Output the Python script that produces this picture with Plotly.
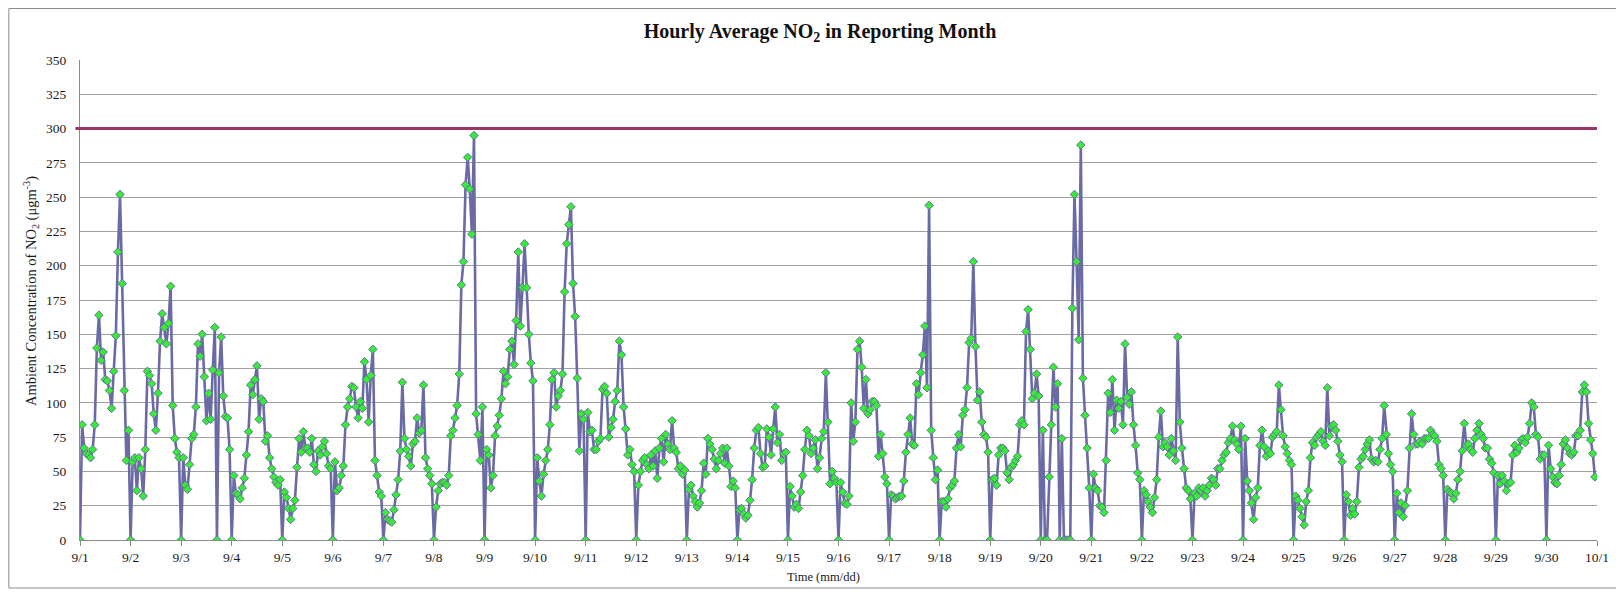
import pandas as pd
import plotly.graph_objects as go

# Hourly NO2 values (ugm-3), hours 00..23 for each day of the reporting month
sep01 = [0, 84, 67, 63, 62, 60, 66, 84, 140, 164, 131, 137, 117, 116, 109, 96, 123, 149, 210, 252, 187, 109, 58, 80]
sep02 = [0, 57, 60, 36, 60, 52, 32, 66, 123, 120, 114, 92, 80, 107, 145, 165, 155, 143, 158, 185, 98, 74, 64, 60]
sep03 = [0, 60, 40, 37, 55, 74, 77, 97, 143, 134, 150, 119, 87, 107, 88, 124, 155, 0, 122, 148, 105, 90, 89, 66]
sep04 = [0, 47, 34, 33, 30, 38, 45, 62, 79, 113, 106, 117, 127, 88, 103, 101, 72, 76, 60, 52, 46, 42, 40, 44]
sep05 = [0, 35, 31, 23, 15, 23, 29, 53, 74, 64, 79, 67, 67, 64, 74, 55, 50, 65, 62, 68, 72, 63, 54, 52]
sep06 = [0, 57, 36, 38, 47, 54, 84, 97, 103, 112, 111, 97, 89, 101, 96, 130, 117, 86, 120, 139, 58, 47, 35, 32]
sep07 = [0, 20, 15, 14, 13, 22, 33, 44, 65, 115, 74, 66, 61, 54, 70, 72, 89, 78, 80, 113, 60, 52, 47, 41]
sep08 = [0, 24, 36, 41, 42, 42, 40, 47, 76, 80, 89, 98, 121, 186, 203, 259, 279, 256, 223, 295, 92, 77, 58, 97]
sep09 = [0, 66, 62, 38, 47, 76, 83, 91, 103, 123, 114, 119, 139, 145, 128, 160, 210, 156, 184, 216, 184, 150, 129, 116]
sep10 = [0, 60, 43, 32, 48, 58, 66, 84, 117, 122, 97, 105, 109, 121, 181, 216, 230, 243, 187, 163, 118, 65, 92, 88]
sep11 = [0, 93, 79, 80, 66, 66, 72, 74, 110, 112, 107, 75, 82, 88, 101, 109, 145, 135, 97, 81, 62, 66, 55, 50]
sep12 = [0, 40, 50, 58, 60, 55, 52, 62, 54, 65, 45, 67, 74, 57, 77, 70, 66, 87, 67, 64, 52, 54, 48, 51]
sep13 = [0, 37, 40, 32, 28, 24, 27, 36, 56, 48, 74, 70, 66, 59, 52, 58, 63, 67, 56, 67, 54, 39, 43, 38]
sep14 = [0, 22, 23, 19, 16, 18, 29, 44, 67, 80, 82, 63, 53, 54, 81, 75, 62, 81, 97, 71, 77, 58, 63, 64]
sep15 = [0, 39, 32, 24, 26, 23, 35, 47, 66, 80, 76, 63, 67, 73, 52, 60, 74, 79, 122, 86, 41, 50, 45, 42]
sep16 = [0, 42, 35, 27, 26, 32, 100, 72, 86, 139, 145, 126, 96, 117, 92, 95, 101, 101, 98, 61, 77, 63, 46, 41]
sep17 = [0, 33, 32, 30, 31, 32, 32, 43, 64, 77, 89, 70, 69, 114, 106, 122, 135, 156, 111, 244, 80, 60, 44, 51]
sep18 = [0, 28, 28, 24, 30, 38, 40, 43, 67, 77, 68, 91, 95, 111, 144, 147, 203, 141, 102, 108, 86, 77, 75, 64]
sep19 = [0, 44, 45, 40, 62, 67, 67, 65, 49, 44, 53, 55, 58, 61, 84, 87, 84, 152, 168, 139, 103, 107, 121, 105]
sep20 = [0, 80, 0, 0, 46, 84, 126, 97, 114, 0, 74, 0, 0, 0, 0, 169, 252, 203, 146, 288, 118, 91, 67, 38]
sep21 = [0, 48, 38, 36, 25, 24, 20, 58, 107, 93, 117, 80, 102, 96, 101, 84, 143, 104, 99, 108, 84, 69, 49, 44]
sep22 = [0, 36, 33, 28, 24, 20, 31, 44, 75, 94, 68, 71, 68, 62, 74, 65, 58, 148, 86, 67, 52, 38, 36, 30]
sep23 = [0, 34, 32, 38, 36, 38, 32, 36, 40, 45, 44, 40, 52, 52, 58, 62, 64, 71, 74, 83, 73, 70, 66, 83]
sep24 = [0, 74, 43, 36, 27, 15, 31, 38, 69, 80, 68, 61, 65, 63, 75, 77, 79, 113, 95, 76, 68, 63, 58, 55]
sep25 = [0, 32, 29, 23, 17, 11, 28, 36, 60, 71, 69, 75, 77, 79, 72, 69, 111, 76, 83, 84, 80, 72, 62, 57]
sep26 = [0, 33, 28, 18, 23, 19, 28, 53, 59, 61, 66, 70, 73, 59, 57, 58, 57, 66, 74, 98, 77, 63, 55, 50]
sep27 = [0, 34, 20, 27, 17, 25, 36, 67, 92, 77, 70, 70, 72, 70, 74, 74, 74, 80, 77, 76, 72, 55, 52, 47]
sep28 = [0, 37, 35, 34, 30, 34, 44, 50, 65, 85, 69, 70, 66, 64, 74, 80, 85, 77, 74, 67, 67, 59, 56, 49]
sep29 = [0, 47, 41, 47, 43, 36, 41, 42, 62, 69, 64, 67, 73, 74, 71, 75, 85, 100, 97, 77, 75, 59, 62, 62]
sep30 = [0, 69, 52, 46, 42, 41, 47, 55, 70, 73, 67, 63, 62, 64, 76, 76, 80, 108, 113, 108, 85, 73, 63, 46]

days = [sep01, sep02, sep03, sep04, sep05, sep06, sep07, sep08, sep09, sep10,
        sep11, sep12, sep13, sep14, sep15, sep16, sep17, sep18, sep19, sep20,
        sep21, sep22, sep23, sep24, sep25, sep26, sep27, sep28, sep29, sep30]

month_start = "2013-09-01"
month_end = "2013-10-01"
limit_value = 300  # hourly standard

title_text = "<b>Hourly Average NO<sub>2</sub> in Reporting Month</b>"
y_title = "Ambient Concentration of NO<sub>2</sub> (μgm<sup>-3</sup>)"
x_title = "Time (mm/dd)"

values = [v for d in days for v in d]
times = pd.date_range(month_start, periods=len(values), freq="h")

SERIF = "Liberation Serif"
TXT = "#1a1a1a"

fig = go.Figure()
fig.add_trace(go.Scatter(
    x=times, y=values, mode="lines+markers",
    line=dict(color="#6a6aa4", width=2.6),
    marker=dict(symbol="diamond", size=6.5, color="#33ee33",
                line=dict(color="#6a6aa4", width=1)),
    showlegend=False, hoverinfo="x+y",
))

# limit line at 300
fig.add_shape(type="line", xref="paper", yref="y", x0=-0.003, x1=1.0,
              y0=limit_value, y1=limit_value,
              line=dict(color="#9b3565", width=3))

# chart-area border
fig.add_shape(type="rect", xref="paper", yref="paper",
              x0=-0.0469, x1=1.0139, y0=-0.1, y1=1.1073,
              line=dict(color="#8a8a8a", width=1), layer="below")

fig.add_annotation(text=y_title, xref="paper", yref="paper",
                   x=-0.0323, y=0.519, xanchor="center", yanchor="middle",
                   textangle=-90, showarrow=False,
                   font=dict(family=SERIF, size=14.5, color=TXT))
fig.add_annotation(text=x_title, xref="paper", yref="paper",
                   x=0.4898, y=-0.077, xanchor="center", yanchor="middle",
                   showarrow=False,
                   font=dict(family=SERIF, size=12.5, color=TXT))

fig.update_layout(
    width=1616, height=584,
    margin=dict(l=72, r=27, t=52, b=52),
    paper_bgcolor="white", plot_bgcolor="white",
    font=dict(family=SERIF, color=TXT),
    title=dict(text=title_text,
               x=0.5025, xanchor="center", xref="container",
               y=0.9606, yanchor="middle", yref="container",
               font=dict(family=SERIF, size=20, color="#111111")),
    xaxis=dict(
        type="date", range=[month_start, month_end],
        tick0=month_start, dtick=86400000, tickformat="%-m/%-d",
        showgrid=False, showline=True, linecolor="#8a8a8a", linewidth=1,
        ticks="outside", ticklen=5, tickcolor="#8a8a8a",
        tickfont=dict(family=SERIF, size=13.5, color=TXT),
        zeroline=False, automargin=False,
    ),
    yaxis=dict(
        range=[0, 350], dtick=25, tick0=0,
        showgrid=True, gridcolor="#a0a0a0", gridwidth=1,
        showline=True, linecolor="#8a8a8a", linewidth=1,
        ticks="", ticklabelstandoff=10,
        tickfont=dict(family=SERIF, size=13.5, color=TXT),
        zeroline=False, automargin=False,
    ),
)

fig.write_html("out.html")
